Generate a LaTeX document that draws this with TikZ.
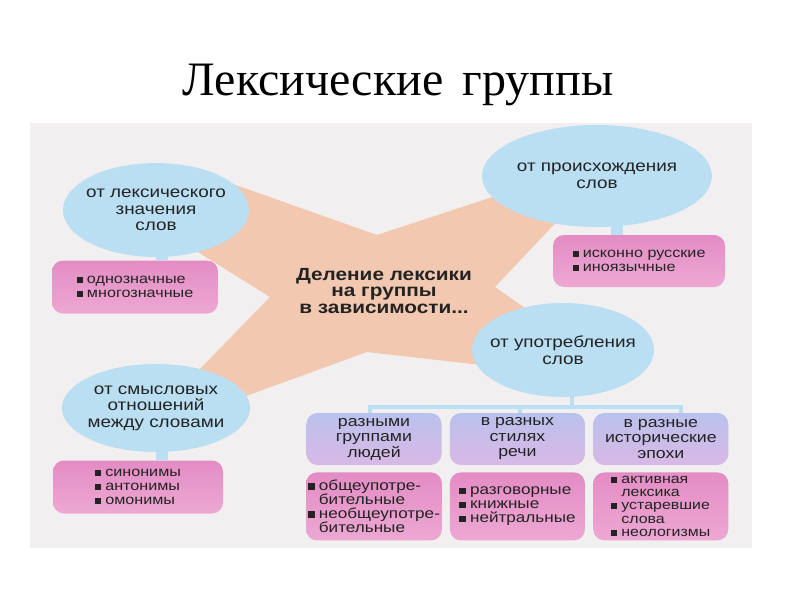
\documentclass[tikz,border=0pt]{standalone}
\usepackage{fontspec}
\setmainfont{Liberation Serif}
\newfontfamily\diagfont[FakeStretch=1.18]{Liberation Sans}
\usetikzlibrary{positioning,shapes.geometric}
\definecolor{scan}{RGB}{241,239,239}
\definecolor{peach}{RGB}{243,200,176}
\definecolor{skyoval}{RGB}{186,223,243}
\definecolor{pinktop}{RGB}{227,140,196}
\definecolor{pinkbot}{RGB}{237,168,211}
\definecolor{violtop}{RGB}{186,193,237}
\definecolor{violbot}{RGB}{217,184,229}
\definecolor{ink}{RGB}{35,35,35}
\newcommand{\sq}{\rule[0.1ex]{0.45em}{0.45em}\hspace{0.3em}}
\begin{document}
\begin{tikzpicture}[x=1pt, y=-1pt,
  oval/.style={ellipse, fill=skyoval, align=center, inner xsep=-22pt, inner ysep=0pt, text=ink, font=\diagfont\fontsize{16}{16.5}\selectfont},
  pinkbox/.style={rounded corners=11pt, top color=pinktop, bottom color=pinkbot, align=left, text=ink, font=\diagfont\fontsize{13.7}{14}\selectfont},
  listbox/.style={pinkbox, inner xsep=2pt, minimum width=135pt, minimum height=68pt, font=\diagfont\fontsize{14.5}{14}\selectfont},
  violbox/.style={rounded corners=11pt, top color=violtop, bottom color=violbot, align=center, minimum width=135pt, minimum height=52pt, text=ink, font=\diagfont\fontsize{15}{15.5}\selectfont},
  stub/.style={draw=skyoval, line width=12pt},
  bar/.style={draw=skyoval, line width=4pt}
]
\useasboundingbox (0,0) rectangle (800,600);
\fill[white] (0,0) rectangle (800,600);
\fill[scan] (30,123) rectangle (752,548);
\node[anchor=base, font=\fontsize{48}{48}\selectfont] (title) at (398,95) {Лексические\hspace{0.4em}группы};
% the cross behind the centre text
\fill[peach] (230,183) -- (377,235) -- (532,184) -- (562,216) -- (495,287) -- (535,315) -- (490,366)
  -- (367,352) -- (235,400) -- (195,374) -- (270,297) -- (185,244) -- cycle;
\node[align=center, text=ink, font=\diagfont\bfseries\fontsize{17.6}{16.5}\selectfont] (split) at (384,291) {Деление лексики\\на группы\\в зависимости...};
% ovals
\node[oval, minimum width=186pt, minimum height=94pt] (lex) at (156,210) {от лексического\\значения\\слов};
\node[oval, minimum width=230pt, minimum height=102pt] (orig) at (597,176) {от происхождения\\слов};
\node[oval, minimum width=182pt, minimum height=94pt] (use) at (563,350) {от употребления\\слов};
\node[oval, minimum width=188pt, minimum height=88pt] (sem) at (156,408) {от смысловых\\отношений\\между словами};
% lists
\node[pinkbox, minimum width=166pt, minimum height=53pt] (lexlist) at (135,287) {\sq однозначные\\\sq многозначные};
\node[pinkbox, minimum width=172pt, minimum height=52pt] (origlist) at (639,261) {\sq исконно русские\\\sq иноязычные};
\node[pinkbox, minimum width=170pt, minimum height=53pt] (semlist) at (138,487) {\sq синонимы\\\sq антонимы\\\sq омонимы};
% usage groups
\node[violbox] (people) at (374,439) {разными\\группами\\людей};
\node[violbox, right=8pt of people] (styles) {в разных\\стилях\\речи};
\node[violbox, right=8pt of styles] (epochs) {в разные\\исторические\\эпохи};
\node[listbox, below=7pt of people] (peoplelist) {\sq общеупотре-\\\phantom{\sq}бительные\\\sq необщеупотре-\\\phantom{\sq}бительные};
\node[listbox, below=7pt of styles] (styleslist) {\sq разговорные\\\sq книжные\\\sq нейтральные};
\node[listbox, below=7pt of epochs, inner ysep=1pt, font=\diagfont\fontsize{13.5}{13.2}\selectfont] (epochslist) {\sq активная\\\phantom{\sq}лексика\\\sq устаревшие\\\phantom{\sq}слова\\\sq неологизмы};
% links
\draw[stub] ([xshift=6pt,yshift=3pt]lex.south) -- ([xshift=6pt]lex.south |- lexlist.north);
\draw[stub] ([xshift=20pt,yshift=3pt]orig.south) -- ([xshift=20pt]orig.south |- origlist.north);
\draw[stub] ([xshift=6pt,yshift=3pt]sem.south) -- ([xshift=6pt]sem.south |- semlist.north);
\draw[bar] ([xshift=9pt,yshift=3pt]use.south) -- ++(0,13) coordinate (fork);
\draw[bar] (fork) -| ([xshift=-4pt]people.north);
\draw[bar] (fork) -| ([xshift=20pt]epochs.north);
\draw[bar] ([xshift=3pt]styles.north) -- ([xshift=3pt]styles.north |- fork);
\end{tikzpicture}
\end{document}
